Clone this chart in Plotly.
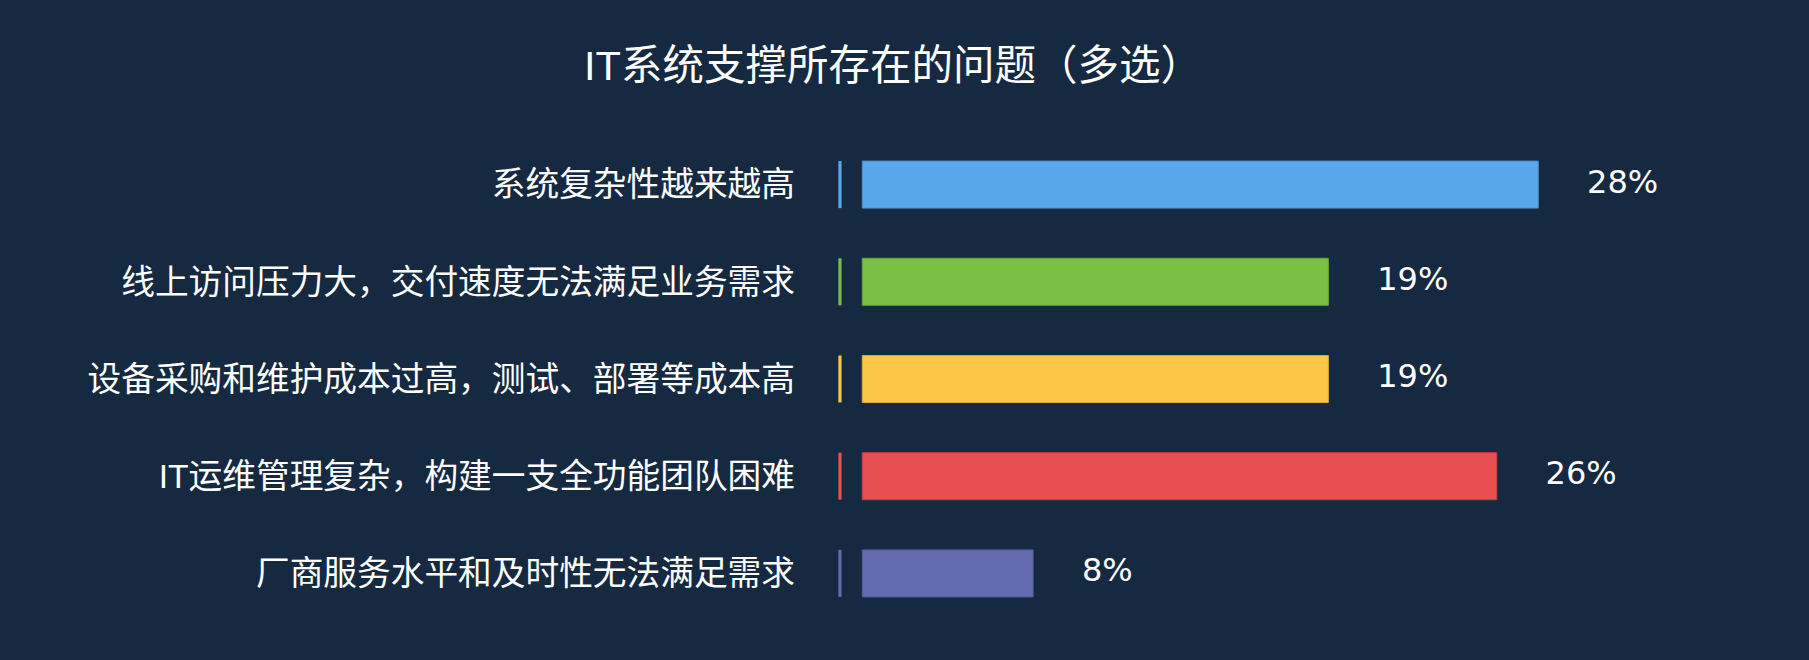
import plotly.graph_objects as go

# problems reported (multi-choice), top to bottom
categories = [
    "系统复杂性越来越高",
    "线上访问压力大，交付速度无法满足业务需求",
    "设备采购和维护成本过高，测试、部署等成本高",
    "IT运维管理复杂，构建一支全功能团队困难",
    "厂商服务水平和及时性无法满足需求",
]
# bar lengths (%)
values = [27.7, 19.1, 19.1, 26.0, 7.0]
# printed labels
value_labels = ["28%", "19%", "19%", "26%", "8%"]

colors = ["#59a8eb", "#79c045", "#fcc647", "#e84f50", "#656bb0"]
edges = ["#4a8fcc", "#66a538", "#d9a93a", "#c84244", "#545a99"]

bg = "#152a40"
font_family = "Liberation Sans, Noto Sans CJK SC, sans-serif"

fig = go.Figure()

# thin marker line left of each bar
fig.add_trace(go.Bar(
    y=categories, x=[0.13] * len(categories), base=-0.98,
    orientation="h", marker=dict(color=colors, line=dict(width=0)),
    hoverinfo="skip", showlegend=False,
))

# main bars
fig.add_trace(go.Bar(
    y=categories, x=values, orientation="h",
    marker=dict(color=colors, line=dict(color=edges, width=1)),
    showlegend=False,
))

# value labels
fig.add_trace(go.Scatter(
    y=categories, x=[v + 2.0 for v in values], mode="text",
    text=value_labels, textposition="middle right",
    textfont=dict(size=32, color="white", family="DejaVu Sans, sans-serif"),
    hoverinfo="skip", showlegend=False,
))

fig.update_layout(
    width=1809, height=660,
    paper_bgcolor=bg, plot_bgcolor=bg,
    barmode="overlay", bargap=0.516,
    margin=dict(l=833, r=117, t=136, b=38, autoexpand=False),
    font=dict(family=font_family, color="white"),
    title=dict(
        text="IT系统支撑所存在的问题（多选）",
        x=893 / 1809, xref="container", xanchor="center",
        y=1 - 65 / 660, yref="container", yanchor="middle",
        font=dict(size=41.5, color="white", family=font_family),
    ),
    xaxis=dict(range=[-1.2, 34], visible=False, fixedrange=True),
    yaxis=dict(
        autorange="reversed", showgrid=False, zeroline=False, showline=False,
        ticks="", ticklabelstandoff=37,
        tickfont=dict(size=33.7, color="white", family=font_family),
        automargin=False,
    ),
)

# drop the page margin so the figure fills the window
fig.write_html("out.html", config={"displayModeBar": False},
               post_script="document.body.style.margin='0';")
